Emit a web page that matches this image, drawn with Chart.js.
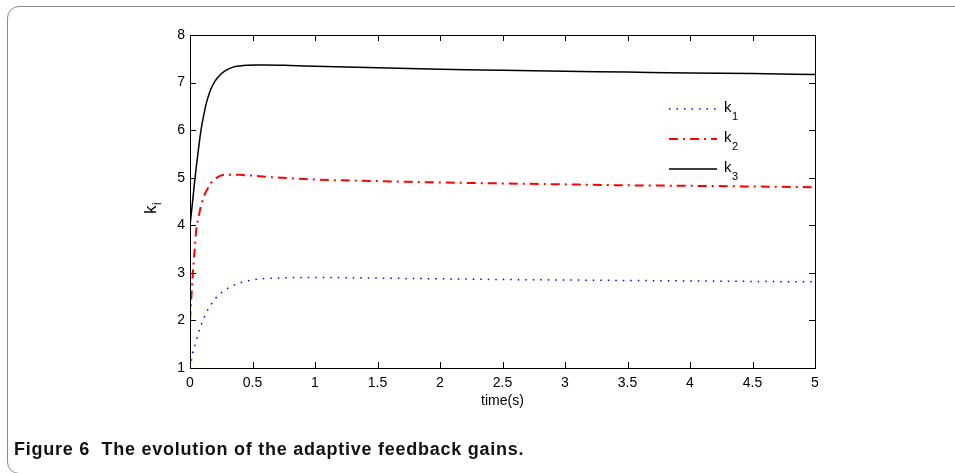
<!DOCTYPE html>
<html lang="en">
<head>
    <meta charset="UTF-8">
    <title>Figure 6</title>
    <script src="https://cdn.jsdelivr.net/npm/chart.js"></script>
    <style>
        html, body { margin: 0; padding: 0; background: #fff; }
        body { width: 955px; height: 473px; position: relative; overflow: hidden; }
        .frame {
            position: absolute; left: 7px; top: 6px; width: 1000px; height: 466px;
            border: 1.5px solid #8a8a8a; border-radius: 12px;
        }
        .chart-box { position: absolute; left: 0; top: 0; width: 955px; height: 473px; }
        .caption {
            position: absolute; left: 14px; top: 439px; white-space: pre; letter-spacing: 0.75px;
            font: bold 18px 'Liberation Sans', Arial, sans-serif; color: #111;
        }
    </style>
</head>
<body>
    <div class="frame"></div>
    <div class="chart-box"><canvas id="gainChart" width="955" height="473"></canvas></div>
    <div class="caption">Figure 6  The evolution of the adaptive feedback gains.</div>

    <script>
        // time samples (s) and gain values
        const time = [0, 0.01, 0.02, 0.035, 0.05, 0.07, 0.09, 0.11, 0.135, 0.165, 0.2, 0.24, 0.29, 0.34,
            0.4, 0.46, 0.52, 0.6, 0.8, 1, 1.5, 2, 2.5, 3, 3.5, 4, 4.5, 5];
        const k1 = [1.0, 1.13, 1.30, 1.43, 1.57, 1.76, 1.91, 2.04, 2.19, 2.32, 2.45, 2.56, 2.66, 2.73,
            2.79, 2.83, 2.86, 2.88, 2.9, 2.905, 2.89, 2.875, 2.86, 2.85, 2.84, 2.83, 2.82, 2.81];
        const k2 = [2.0, 2.45, 2.88, 3.41, 3.9, 4.19, 4.43, 4.6, 4.74, 4.88, 4.97, 5.04, 5.06, 5.065,
            5.06, 5.05, 5.04, 5.02, 4.99, 4.96, 4.93, 4.9, 4.88, 4.86, 4.84, 4.83, 4.815, 4.8];
        const k3 = [4.0, 4.24, 4.48, 4.87, 5.22, 5.65, 6.03, 6.32, 6.61, 6.85, 7.03, 7.16, 7.26, 7.32,
            7.35, 7.365, 7.37, 7.37, 7.36, 7.345, 7.31, 7.28, 7.26, 7.24, 7.22, 7.2, 7.19, 7.17];

        const seriesNames = ['1', '2', '3'];
        const xTicks = [0, 0.5, 1, 1.5, 2, 2.5, 3, 3.5, 4, 4.5, 5];
        const yTicks = [1, 2, 3, 4, 5, 6, 7, 8];

        const FONT = "'Liberation Sans', Arial, sans-serif";
        Chart.defaults.font.family = FONT;
        Chart.defaults.color = '#000';

        const styles = [
            { color: '#0000ff', dash: [1.5, 6], width: 1.5 },
            { color: '#ff0000', dash: [9, 5, 2, 5], width: 2 },
            { color: '#000000', dash: [], width: 1.5 }
        ];

        const toPoints = vals => time.map((t, i) => ({ x: t, y: vals[i] }));

        // box, inside ticks, y label and legend like the matlab figure
        const matlabAxes = {
            id: 'matlabAxes',
            afterDraw(chart) {
                const { ctx, chartArea: a, scales } = chart;
                const xs = scales.x, ys = scales.y;
                const tl = 6;
                ctx.save();
                ctx.strokeStyle = '#000';
                ctx.lineWidth = 1;
                ctx.setLineDash([]);
                ctx.strokeRect(Math.round(a.left) + 0.5, Math.round(a.top) + 0.5,
                    Math.round(a.right - a.left), Math.round(a.bottom - a.top));
                ctx.beginPath();
                xTicks.forEach(v => {
                    const px = Math.round(xs.getPixelForValue(v)) + 0.5;
                    ctx.moveTo(px, a.bottom); ctx.lineTo(px, a.bottom - tl);
                    ctx.moveTo(px, a.top); ctx.lineTo(px, a.top + tl);
                });
                yTicks.forEach(v => {
                    const py = Math.round(ys.getPixelForValue(v)) + 0.5;
                    ctx.moveTo(a.left, py); ctx.lineTo(a.left + tl, py);
                    ctx.moveTo(a.right, py); ctx.lineTo(a.right - tl, py);
                });
                ctx.stroke();

                // y axis title k_i
                ctx.fillStyle = '#000';
                ctx.translate(156, 214);
                ctx.rotate(-Math.PI / 2);
                ctx.textBaseline = 'alphabetic';
                ctx.textAlign = 'left';
                ctx.font = '17px ' + FONT;
                ctx.fillText('k', 0, 0);
                const kw = ctx.measureText('k').width;
                ctx.font = '12px ' + FONT;
                ctx.fillText('i', kw + 0.5, 5);
                ctx.setTransform(1, 0, 0, 1, 0, 0);

                // legend
                const legX0 = 669, legX1 = 717, legY = [109, 139, 169];
                seriesNames.forEach((name, i) => {
                    const s = styles[i];
                    ctx.beginPath();
                    ctx.strokeStyle = s.color;
                    ctx.lineWidth = s.width;
                    ctx.setLineDash(s.dash);
                    ctx.moveTo(legX0, legY[i]);
                    ctx.lineTo(legX1, legY[i]);
                    ctx.stroke();
                    ctx.setLineDash([]);
                    ctx.fillStyle = '#000';
                    ctx.font = '15px ' + FONT;
                    ctx.fillText('k', 724, legY[i] + 3);
                    const w = ctx.measureText('k').width;
                    ctx.font = '11px ' + FONT;
                    ctx.fillText(name, 724 + w + 0.5, legY[i] + 11);
                });
                ctx.restore();
            }
        };

        const ctx = document.getElementById('gainChart').getContext('2d');
        new Chart(ctx, {
            type: 'line',
            data: {
                datasets: [k1, k2, k3].map((vals, i) => ({
                    label: 'k' + seriesNames[i],
                    data: toPoints(vals),
                    borderColor: styles[i].color,
                    borderWidth: styles[i].width,
                    borderDash: styles[i].dash,
                    pointRadius: 0,
                    fill: false,
                    cubicInterpolationMode: 'monotone'
                }))
            },
            options: {
                responsive: false,
                animation: false,
                events: [],
                layout: { padding: { left: 0, top: 35, right: 140, bottom: 63 } },
                plugins: { legend: { display: false }, tooltip: { enabled: false } },
                scales: {
                    x: {
                        type: 'linear',
                        min: 0, max: 5,
                        afterFit: s => { s.height = 42; },
                        afterBuildTicks: s => { s.ticks = xTicks.map(v => ({ value: v })); },
                        grid: { display: false, drawTicks: false },
                        border: { display: false },
                        ticks: { padding: 7, font: { size: 14 }, maxRotation: 0, autoSkip: false,
                            callback: v => String(v) },
                        title: { display: true, text: 'time(s)', font: { size: 14 }, padding: 0 }
                    },
                    y: {
                        min: 1, max: 8,
                        afterFit: s => { s.width = 190; },
                        afterBuildTicks: s => { s.ticks = yTicks.map(v => ({ value: v })); },
                        grid: { display: false, drawTicks: false },
                        border: { display: false },
                        ticks: { padding: 5, font: { size: 14 }, autoSkip: false,
                            callback: v => String(v) }
                    }
                }
            },
            plugins: [matlabAxes]
        });
    </script>
</body>
</html>
